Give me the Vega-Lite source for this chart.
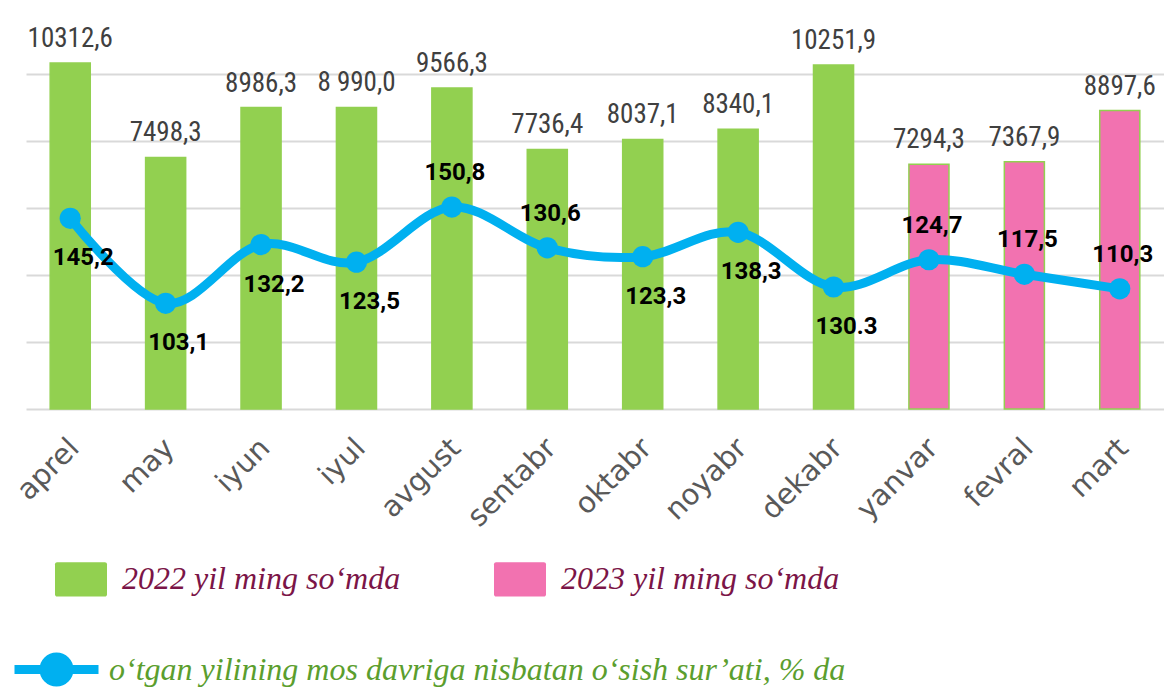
{
  "$schema": "https://vega.github.io/schema/vega-lite/v6.json",
  "width": 1138,
  "height": 369,
  "autosize": {"type": "none"},
  "padding": {"left": 26, "top": 40, "right": 0, "bottom": 278},
  "background": "white",
  "config": {"view": {"stroke": null}},
  "data": {
    "values": [
      {"month": "aprel", "value": 10312.6, "valueLabel": "10312,6", "year": "2022 yil ming so‘mda", "rate": 145.2, "rateLabel": "145,2"},
      {"month": "may", "value": 7498.3, "valueLabel": "7498,3", "year": "2022 yil ming so‘mda", "rate": 103.1, "rateLabel": "103,1"},
      {"month": "iyun", "value": 8986.3, "valueLabel": "8986,3", "year": "2022 yil ming so‘mda", "rate": 132.2, "rateLabel": "132,2"},
      {"month": "iyul", "value": 8990.0, "valueLabel": "8 990,0", "year": "2022 yil ming so‘mda", "rate": 123.5, "rateLabel": "123,5"},
      {"month": "avgust", "value": 9566.3, "valueLabel": "9566,3", "year": "2022 yil ming so‘mda", "rate": 150.8, "rateLabel": "150,8"},
      {"month": "sentabr", "value": 7736.4, "valueLabel": "7736,4", "year": "2022 yil ming so‘mda", "rate": 130.6, "rateLabel": "130,6"},
      {"month": "oktabr", "value": 8037.1, "valueLabel": "8037,1", "year": "2022 yil ming so‘mda", "rate": 126.2, "rateLabel": "123,3"},
      {"month": "noyabr", "value": 8340.1, "valueLabel": "8340,1", "year": "2022 yil ming so‘mda", "rate": 138.3, "rateLabel": "138,3"},
      {"month": "dekabr", "value": 10251.9, "valueLabel": "10251,9", "year": "2022 yil ming so‘mda", "rate": 111.2, "rateLabel": "130.3"},
      {"month": "yanvar", "value": 7294.3, "valueLabel": "7294,3", "year": "2023 yil ming so‘mda", "rate": 124.7, "rateLabel": "124,7"},
      {"month": "fevral", "value": 7367.9, "valueLabel": "7367,9", "year": "2023 yil ming so‘mda", "rate": 117.5, "rateLabel": "117,5"},
      {"month": "mart", "value": 8897.6, "valueLabel": "8897,6", "year": "2023 yil ming so‘mda", "rate": 110.3, "rateLabel": "110,3"}
    ]
  },
  "encoding": {
    "x": {
      "field": "month",
      "type": "nominal",
      "sort": null,
      "scale": {"paddingInner": 0.58, "paddingOuter": 0.2535},
      "axis": {
        "title": null,
        "labelAngle": -45,
        "labelAlign": "right",
        "labelBaseline": "middle",
        "labelFont": "DejaVu Sans",
        "labelFontSize": 29,
        "labelColor": "#595959",
        "labelPadding": 34,
        "labelOffset": 4,
        "ticks": false,
        "domain": false,
        "grid": false
      }
    }
  },
  "layer": [
    {
      "encoding": {
        "y": {
          "field": "value",
          "type": "quantitative",
          "scale": {"domain": [0, 11000], "nice": false, "zero": true},
          "axis": {
            "title": null,
            "values": [0, 2000, 4000, 6000, 8000, 10000],
            "labels": false,
            "ticks": false,
            "domain": false,
            "grid": true,
            "gridColor": "#D9D9D9",
            "gridWidth": 2
          }
        }
      },
      "layer": [
        {
          "mark": {"type": "bar", "stroke": "#92D050", "strokeWidth": 1.5},
          "encoding": {
            "fill": {
              "field": "year",
              "type": "nominal",
              "scale": {"domain": ["2022 yil ming so‘mda", "2023 yil ming so‘mda"], "range": ["#92D050", "#F272B0"]},
              "legend": {
                "title": null,
                "orient": "none",
                "legendX": 29,
                "legendY": 513,
                "direction": "horizontal",
                "columns": 2,
                "columnPadding": 93,
                "padding": 0,
                "symbolType": "M-0.92,-0.66H0.92A0.08,0.08 0 0 1 1,-0.58V0.58A0.08,0.08 0 0 1 0.92,0.66H-0.92A0.08,0.08 0 0 1 -1,0.58V-0.58A0.08,0.08 0 0 1 -0.92,-0.66Z",
                "symbolSize": 2704,
                "symbolStrokeWidth": 0,
                "symbolOpacity": 1,
                "labelOffset": 15,
                "labelFont": "Liberation Serif",
                "labelFontStyle": "italic",
                "labelFontSize": 32,
                "labelColor": "#7B1547",
                "labelLimit": 800
              }
            }
          }
        },
        {
          "mark": {"type": "text", "baseline": "alphabetic", "dy": -16, "font": "Roboto Condensed, Roboto, sans-serif", "fontSize": 27, "color": "#404040"},
          "encoding": {"text": {"field": "valueLabel"}}
        }
      ]
    },
    {
      "encoding": {
        "y": {
          "field": "rate",
          "type": "quantitative",
          "scale": {"domain": [50.8, 233.5], "nice": false, "zero": false},
          "axis": null
        }
      },
      "layer": [
        {
          "mark": {"type": "line", "interpolate": "cardinal", "strokeWidth": 9, "strokeCap": "round", "strokeJoin": "round"},
          "encoding": {
            "stroke": {
              "datum": "o‘tgan yilining mos davriga nisbatan o‘sish sur’ati, % da",
              "type": "nominal",
              "scale": {"range": ["#00B0F0"]},
              "legend": {
                "title": null,
                "orient": "none",
                "legendX": -16,
                "legendY": 583,
                "padding": 0,
                "symbolType": "M-1,0H1M-0.107,0A0.107,0.107 0 1 0 0.107,0A0.107,0.107 0 1 0 -0.107,0M-0.298,0A0.298,0.298 0 1 0 0.298,0A0.298,0.298 0 1 0 -0.298,0",
                "symbolSize": 7056,
                "symbolStrokeWidth": 9,
                "symbolFillColor": "#00B0F0",
                "symbolStrokeColor": "#00B0F0",
                "labelOffset": 6,
                "labelFont": "Liberation Serif",
                "labelFontStyle": "italic",
                "labelFontSize": 32,
                "labelColor": "#5B9E2E",
                "labelLimit": 1100
              }
            }
          }
        },
        {
          "mark": {"type": "circle", "size": 450, "color": "#00B0F0", "opacity": 1}
        },
        {
          "transform": [{"filter": "indexof(['avgust','sentabr','yanvar','fevral','mart'], datum.month) >= 0"}],
          "mark": {"type": "text", "baseline": "middle", "dx": 3, "dy": -34, "font": "Roboto", "fontWeight": "bold", "fontSize": 24, "color": "#000000"},
          "encoding": {"text": {"field": "rateLabel"}}
        },
        {
          "transform": [{"filter": "indexof(['avgust','sentabr','yanvar','fevral','mart'], datum.month) < 0"}],
          "mark": {"type": "text", "baseline": "middle", "dx": 13, "dy": 40, "font": "Roboto", "fontWeight": "bold", "fontSize": 24, "color": "#000000"},
          "encoding": {"text": {"field": "rateLabel"}}
        }
      ]
    }
  ],
  "resolve": {"scale": {"y": "independent"}}
}
